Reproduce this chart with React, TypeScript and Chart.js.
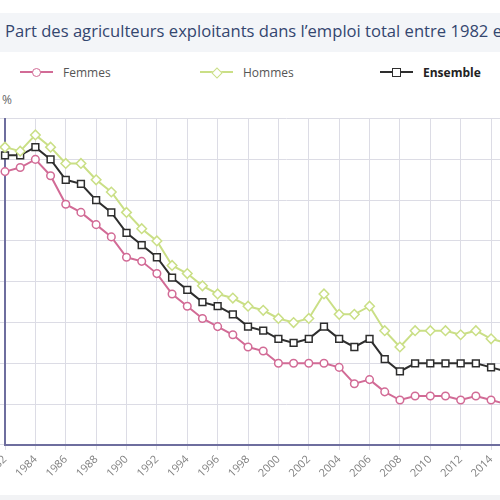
import { useEffect, useRef } from "react";
import { Chart, registerables } from "chart.js";

Chart.register(...registerables);

const years = [
  "1982", "1983", "1984", "1985", "1986", "1987", "1988", "1989", "1990", "1991",
  "1992", "1993", "1994", "1995", "1996", "1997", "1998", "1999", "2000", "2001",
  "2002", "2003", "2004", "2005", "2006", "2007", "2008", "2009", "2010", "2011",
  "2012", "2013", "2014", "2015", "2016", "2017", "2018", "2019",
];

const femmes = [
  6.7, 6.8, 7.0, 6.6, 5.9, 5.7, 5.4, 5.1, 4.6, 4.5,
  4.2, 3.7, 3.4, 3.1, 2.9, 2.7, 2.4, 2.3, 2.0, 2.0,
  2.0, 2.0, 1.9, 1.5, 1.6, 1.3, 1.1, 1.2, 1.2, 1.2,
  1.1, 1.2, 1.1, 1.0, 1.0, 0.9, 0.9, 0.8,
];

const hommes = [
  7.3, 7.2, 7.6, 7.3, 6.9, 6.9, 6.5, 6.2, 5.7, 5.3,
  5.0, 4.4, 4.2, 3.9, 3.7, 3.6, 3.4, 3.3, 3.1, 3.0,
  3.1, 3.7, 3.2, 3.2, 3.4, 2.8, 2.4, 2.8, 2.8, 2.8,
  2.7, 2.8, 2.6, 2.5, 2.4, 2.3, 2.2, 2.1,
];

const ensemble = [
  7.1, 7.1, 7.3, 7.0, 6.5, 6.4, 6.0, 5.7, 5.2, 4.9,
  4.6, 4.1, 3.8, 3.5, 3.4, 3.2, 2.9, 2.8, 2.6, 2.5,
  2.6, 2.9, 2.6, 2.4, 2.6, 2.1, 1.8, 2.0, 2.0, 2.0,
  2.0, 2.0, 1.9, 1.8, 1.8, 1.7, 1.6, 1.5,
];

const yTicks = [0, 1, 2, 3, 4, 5, 6, 7, 8];

const PINK = "#d26b96";
const GREEN = "#cadf86";
const BLACK = "#2e2e2e";
const GRID = "#dcdce5";
const AXIS = "#6e6e9e";
const FONT = "'Open Sans', 'Noto Sans', sans-serif";

function LegendItem(props: { left: number; label: string; color: string; shape: string; bold?: boolean }) {
  const { left, label, color, shape, bold } = props;
  let marker: any;
  if (shape === "circle") {
    marker = (
      <div style={{ position: "absolute", left: 12, top: 2, width: 7, height: 7, borderRadius: "50%", border: `1.5px solid ${color}`, background: "#fff" }} />
    );
  } else if (shape === "diamond") {
    marker = (
      <div style={{ position: "absolute", left: 13, top: 3, width: 6, height: 6, transform: "rotate(45deg)", border: `1.5px solid ${color}`, background: "#fff" }} />
    );
  } else {
    marker = (
      <div style={{ position: "absolute", left: 12, top: 2, width: 7, height: 7, border: `1.5px solid ${color}`, background: "#fff" }} />
    );
  }
  return (
    <div style={{ position: "absolute", left, top: 63, height: 18, display: "flex", alignItems: "center" }}>
      <div style={{ position: "relative", width: 33, height: 12 }}>
        <div style={{ position: "absolute", left: 0, top: 5, width: 33, height: 2, background: color }} />
        {marker}
      </div>
      <span style={{ marginLeft: 10, fontFamily: FONT, fontSize: 12, color: bold ? "#222" : "#555", fontWeight: bold ? 700 : 400, whiteSpace: "nowrap" }}>
        {label}
      </span>
    </div>
  );
}

export default function App() {
  const ref = useRef<HTMLCanvasElement | null>(null);

  useEffect(() => {
    if (!ref.current) return;
    const chart = new Chart(ref.current, {
      type: "line",
      data: {
        labels: years,
        datasets: [
          {
            label: "Femmes",
            data: femmes,
            borderColor: PINK,
            backgroundColor: "#fff",
            borderWidth: 2,
            pointStyle: "circle",
            pointRadius: 3.8,
            pointBorderWidth: 1.5,
            pointBackgroundColor: "#fff",
            pointBorderColor: PINK,
            tension: 0,
          },
          {
            label: "Hommes",
            data: hommes,
            borderColor: GREEN,
            backgroundColor: "#fff",
            borderWidth: 2,
            pointStyle: "rectRot",
            pointRadius: 4.8,
            pointBorderWidth: 1.5,
            pointBackgroundColor: "#fff",
            pointBorderColor: GREEN,
            tension: 0,
          },
          {
            label: "Ensemble",
            data: ensemble,
            borderColor: BLACK,
            backgroundColor: "#fff",
            borderWidth: 2,
            pointStyle: "rect",
            pointRadius: 4.8,
            pointBorderWidth: 1.5,
            pointBackgroundColor: "#fff",
            pointBorderColor: BLACK,
            tension: 0,
          },
        ],
      },
      options: {
        responsive: false,
        animation: false,
        layout: { padding: { top: 0, right: 28, bottom: 0, left: 0 } },
        plugins: {
          legend: { display: false },
          title: { display: false },
          tooltip: { enabled: false },
        },
        scales: {
          x: {
            grid: {
              color: (ctx: any) => (ctx.index % 2 === 0 ? GRID : "rgba(0,0,0,0)"),
              tickLength: 5,
            },
            border: { color: AXIS, width: 2 },
            ticks: {
              autoSkip: false,
              maxRotation: 45,
              minRotation: 45,
              color: "#808080",
              font: { family: FONT, size: 11 },
              callback: (_v: any, i: number) => (i % 2 === 0 ? years[i] : ""),
            },
          },
          y: {
            min: yTicks[0],
            max: yTicks[yTicks.length - 1],
            afterFit: (scale: any) => {
              scale.width = 50;
            },
            grid: { color: GRID, tickLength: 5 },
            border: { color: AXIS, width: 2 },
            ticks: {
              stepSize: 1,
              color: "#777",
              font: { family: FONT, size: 11 },
            },
          },
        },
      },
    });
    return () => chart.destroy();
  }, []);

  return (
    <div style={{ position: "fixed", left: 0, top: 0, width: 500, height: 500, overflow: "hidden", background: "#fff" }}>
      <div style={{ position: "absolute", left: 0, top: 13, width: 500, height: 39, background: "#f3f5f8" }} />
      <div style={{ position: "absolute", left: 5, top: 20, whiteSpace: "nowrap", fontFamily: FONT, fontSize: 16.6, color: "#33466f", lineHeight: "22px" }}>
        Part des agriculteurs exploitants dans l’emploi total entre 1982 et 2019
      </div>
      <LegendItem left={20} label="Femmes" color={PINK} shape="circle" />
      <LegendItem left={200} label="Hommes" color={GREEN} shape="diamond" />
      <LegendItem left={380} label="Ensemble" color={BLACK} shape="square" bold />
      <div style={{ position: "absolute", left: 2, top: 91, fontFamily: FONT, fontSize: 12, color: "#666" }}>%</div>
      <canvas ref={ref} width={640} height={374} style={{ position: "absolute", left: -45, top: 109 }} />
      <div style={{ position: "absolute", left: 0, top: 495, width: 500, height: 5, background: "#f2f3f5" }} />
    </div>
  );
}
